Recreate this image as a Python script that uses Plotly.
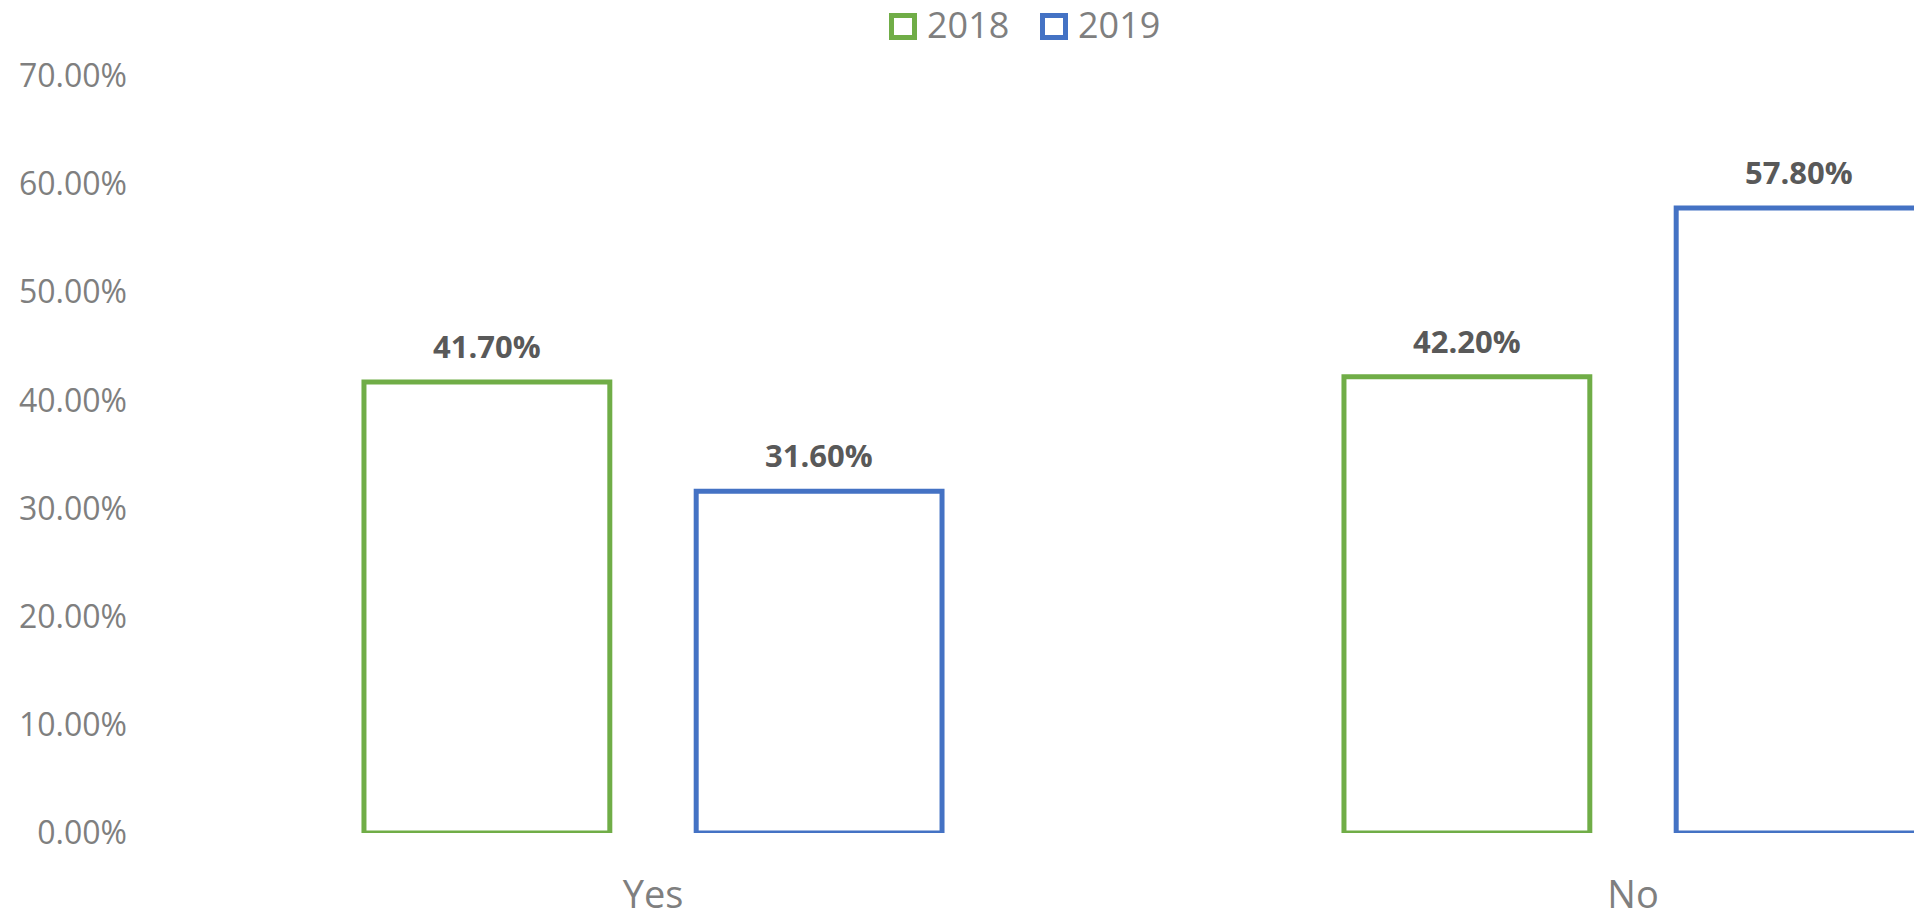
import plotly.graph_objects as go

categories = ["Yes", "No"]
series_names = ["2018", "2019"]
values_2018 = [0.417, 0.422]
values_2019 = [0.316, 0.578]
series_values = [values_2018, values_2019]
colors = ["#70AD47", "#4472C4"]
y_ticks = [0, 0.1, 0.2, 0.3, 0.4, 0.5, 0.6, 0.7]

W, H = 1914, 910
ML, MR, MT, MB = 163, 0, 76, 77
PW, PH = W - ML - MR, H - MT - MB

def px_x(p):
    return (p - ML) / PW

def px_y(p):
    return (H - MB - p) / PH

fig = go.Figure()
for name, vals, col in zip(series_names, series_values, colors):
    fig.add_trace(go.Bar(
        x=categories, y=vals, name=name,
        marker=dict(color="white", line=dict(color=col, width=5)),
        showlegend=False, cliponaxis=True,
    ))

bargap = 0.322
groupgap = 0.26
slot = (1 - bargap) / len(series_names)
annotations = []
for si, vals in enumerate(series_values):
    off = -(1 - bargap) / 2 + slot * (si + 0.5)
    for ci, v in enumerate(vals):
        annotations.append(dict(
            x=ci + off, y=v, xref="x", yref="y",
            text=f"{v*100:.2f}%", showarrow=False,
            yanchor="middle", yshift=36,
            font=dict(family="Open Sans", size=31, color="#595959", weight="bold"),
        ))

# manual legend
leg_sq = [(889, 917), (1040, 1068)]
leg_txt = [927, 1078]
shapes = []
for (x0, x1), tx, name, col in zip(leg_sq, leg_txt, series_names, colors):
    shapes.append(dict(type="rect", xref="paper", yref="paper",
                       x0=px_x(x0 + 2.5), x1=px_x(x1 - 2.5),
                       y0=px_y(40 - 2.5), y1=px_y(13 + 2.5),
                       line=dict(color=col, width=5), fillcolor="white"))
    annotations.append(dict(x=px_x(tx - 2), y=px_y(25), xref="paper", yref="paper",
                            xanchor="left", yanchor="middle", text=name, showarrow=False,
                            font=dict(family="Open Sans", size=36, color="#7F7F7F")))

fig.update_layout(
    width=W, height=H,
    margin=dict(l=ML, r=MR, t=MT, b=MB, pad=0, autoexpand=False),
    paper_bgcolor="white", plot_bgcolor="white",
    barmode="group", bargap=bargap, bargroupgap=groupgap,
    showlegend=False,
    annotations=annotations, shapes=shapes,
    xaxis=dict(range=[-0.5, -0.5 + PW / 980], showgrid=False, zeroline=False,
               showline=False, ticks="", ticklabelstandoff=36, automargin=False,
               tickfont=dict(family="Open Sans", size=38, color="#7F7F7F")),
    yaxis=dict(range=[0, 0.7], tickvals=y_ticks, tickformat=".2%",
               showgrid=False, zeroline=False, showline=False, ticks="",
               ticklabelstandoff=35, automargin=False,
               tickfont=dict(family="Open Sans", size=32, color="#7F7F7F")),
)

fig.write_html("out.html", config={"displayModeBar": False},
               post_script="document.body.style.margin='0';document.body.style.overflow='hidden';")
